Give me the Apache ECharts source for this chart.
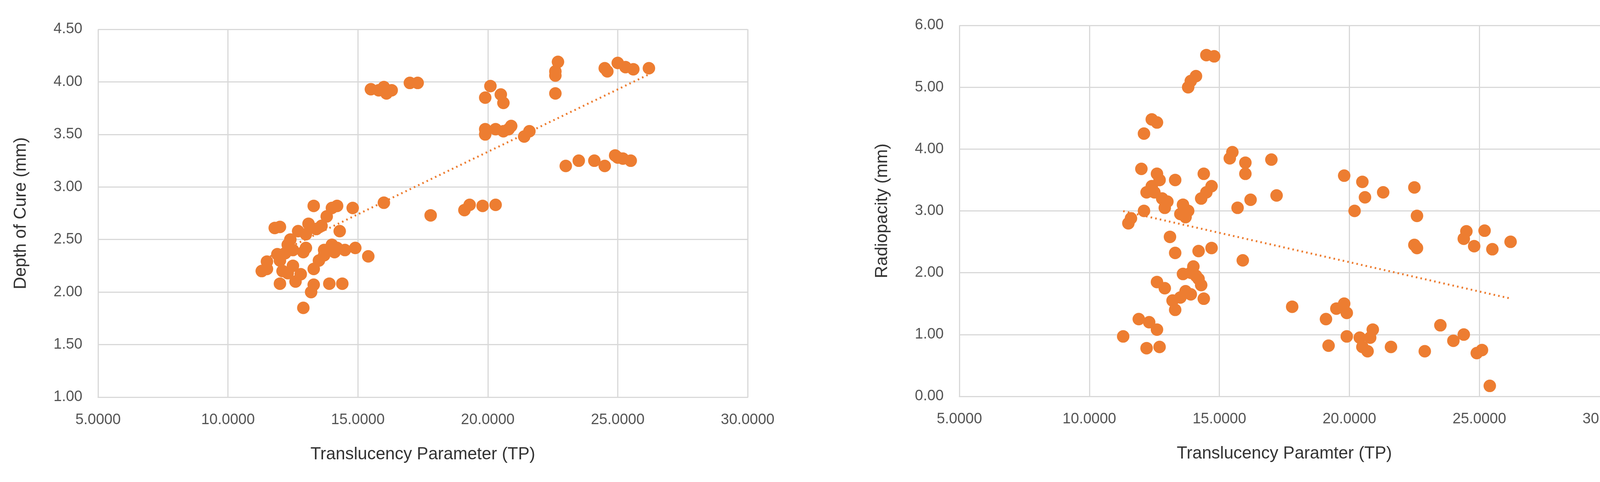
<!DOCTYPE html>
<html><head><meta charset="utf-8">
<script src="https://cdn.jsdelivr.net/npm/echarts@6/dist/echarts.min.js"></script>
<style>html,body{margin:0;padding:0;background:#fff}#c{width:4228px;height:1233px}</style>
</head><body><div id="c"></div>
<script>
const depthOfCure = [
[11.3,2.20],[11.5,2.22],[11.5,2.29],[11.8,2.61],[12.0,2.62],[11.9,2.36],[12.0,2.08],[12.1,2.20],[12.2,2.37],[12.3,2.45],[12.4,2.50],[12.5,2.40],[12.6,2.10],[12.7,2.58],[12.8,2.17],[12.9,1.85],[12.9,2.38],[13.0,2.55],[13.1,2.65],[13.2,2.00],[13.3,2.07],[13.3,2.22],[13.3,2.82],[13.4,2.60],[13.5,2.30],[13.6,2.63],[13.7,2.40],[13.8,2.72],[13.9,2.08],[14.0,2.80],[14.0,2.45],[14.1,2.38],[14.2,2.82],[14.3,2.58],[14.4,2.08],[14.5,2.40],[14.8,2.80],[14.9,2.42],[15.4,2.34],[12.5,2.25],[13.7,2.35],[14.2,2.42],[12.0,2.30],[12.3,2.18],[13.0,2.42],
[15.5,3.93],[15.8,3.92],[16.0,3.95],[16.1,3.89],[16.3,3.92],[17.0,3.99],[17.3,3.99],
[16.0,2.85],[17.8,2.73],[19.1,2.78],[19.3,2.83],[19.8,2.82],[20.3,2.83],
[19.9,3.85],[20.1,3.96],[20.5,3.88],[20.6,3.80],[19.9,3.55],[19.9,3.50],[20.3,3.55],[20.6,3.53],[20.8,3.55],[20.9,3.58],[21.4,3.48],[21.6,3.53],
[22.6,3.89],[22.6,4.06],[22.6,4.10],[22.7,4.19],
[23.0,3.20],[23.5,3.25],[24.1,3.25],[24.5,3.20],[24.9,3.30],[25.0,3.28],[25.2,3.27],[25.5,3.25],
[24.5,4.13],[24.6,4.10],[25.0,4.18],[25.3,4.14],[25.6,4.12],[26.2,4.13]
];
const radiopacity = [
[11.3,0.97],[11.5,2.80],[11.6,2.88],[11.9,1.25],[12.0,3.68],[12.1,4.25],[12.1,3.00],[12.2,0.78],[12.3,1.20],[12.4,3.40],[12.4,4.48],[12.5,3.30],[12.6,4.43],[12.6,3.60],[12.6,1.08],[12.7,0.80],[12.7,3.50],[12.8,3.20],[12.6,1.85],[12.9,1.75],[13.0,3.15],[13.1,2.58],[13.2,1.55],[13.3,1.40],[13.3,2.32],[13.3,3.50],[13.5,1.60],[13.6,3.10],[13.6,1.98],[13.7,2.90],[13.8,5.00],[13.8,3.00],[13.9,5.10],[13.9,1.65],[14.0,2.10],[14.1,5.18],[14.2,2.35],[14.2,1.90],[14.3,3.20],[14.3,1.80],[14.4,3.60],[14.4,1.58],[14.5,3.30],[14.7,3.40],[14.7,2.40],[14.5,5.52],[14.8,5.50],[13.9,2.00],[14.1,1.95],[13.7,1.70],[12.2,3.30],[12.9,3.05],[13.5,2.95],
[15.4,3.85],[15.5,3.95],[15.7,3.05],[15.9,2.20],[16.0,3.60],[16.0,3.78],[16.2,3.18],[17.0,3.83],[17.2,3.25],[17.8,1.45],
[19.1,1.25],[19.2,0.82],[19.5,1.42],[19.8,1.50],[19.9,1.35],[19.9,0.97],[20.2,3.00],[19.8,3.57],[20.4,0.95],[20.5,3.47],[20.6,3.22],[20.5,0.80],[20.7,0.73],[20.8,0.95],[20.9,1.08],[21.3,3.30],[21.6,0.80],
[22.5,3.38],[22.6,2.92],[22.5,2.45],[22.6,2.40],[22.9,0.73],[23.5,1.15],[24.0,0.90],[24.4,1.00],[24.4,2.55],[24.5,2.67],[24.8,2.43],[24.9,0.70],[25.1,0.75],[25.2,2.68],[25.4,0.17],[25.5,2.38],[26.2,2.50]
];
const xTicks = [5,10,15,20,25,30];
function trend(d){const n=d.length;let sx=0,sy=0,sxx=0,sxy=0,mn=1e9,mx=-1e9;
 d.forEach(([x,y])=>{sx+=x;sy+=y;sxx+=x*x;sxy+=x*y;mn=Math.min(mn,x);mx=Math.max(mx,x);});
 const b=(n*sxy-sx*sy)/(n*sxx-sx*sx),a=(sy-b*sx)/n;return [[mn,a+b*mn],[mx,a+b*mx]];}
const C='#ED7D31', G='#d9d9d9', F='Liberation Sans';
function xAx(i,name){return {gridIndex:i,type:'value',min:5,max:30,interval:5,name:name,nameLocation:'middle',nameGap:125,
 nameTextStyle:{fontFamily:F,fontSize:44,color:'#333'},axisLine:{show:true,lineStyle:{color:G,width:3}},axisTick:{show:false},
 axisLabel:{fontFamily:F,fontSize:38,color:'#555',margin:40,formatter:v=>v.toFixed(4)},splitLine:{show:true,lineStyle:{color:G,width:3}}};}
function yAx(i,min,max,name){return {gridIndex:i,type:'value',min:min,max:max,interval:max>5?1:0.5,name:name,nameLocation:'middle',nameGap:175,
 nameTextStyle:{fontFamily:F,fontSize:44,color:'#333'},axisLine:{show:false},axisTick:{show:false},
 axisLabel:{fontFamily:F,fontSize:38,color:'#555',margin:40,formatter:v=>v.toFixed(2)},splitLine:{show:true,lineStyle:{color:G,width:3}}};}
const chart=echarts.init(document.getElementById('c'));
chart.setOption({animation:false,
 grid:[{left:251,top:75,width:1663,height:941},{left:2456,top:65,width:1664,height:949}],
 xAxis:[xAx(0,'Translucency Parameter (TP)'),xAx(1,'Translucency Paramter (TP)')],
 yAxis:[yAx(0,1,4.5,'Depth of Cure (mm)'),yAx(1,0,6,'Radiopacity (mm)')],
 series:[
  {type:'scatter',xAxisIndex:0,yAxisIndex:0,data:depthOfCure,symbolSize:32,itemStyle:{color:C,opacity:1}},
  {type:'line',xAxisIndex:0,yAxisIndex:0,data:trend(depthOfCure),symbol:'none',lineStyle:{color:C,width:5,type:[4,8]},z:1},
  {type:'scatter',xAxisIndex:1,yAxisIndex:1,data:radiopacity,symbolSize:32,itemStyle:{color:C,opacity:1}},
  {type:'line',xAxisIndex:1,yAxisIndex:1,data:trend(radiopacity),symbol:'none',lineStyle:{color:C,width:5,type:[4,8]},z:1}
 ]});
</script></body></html>
